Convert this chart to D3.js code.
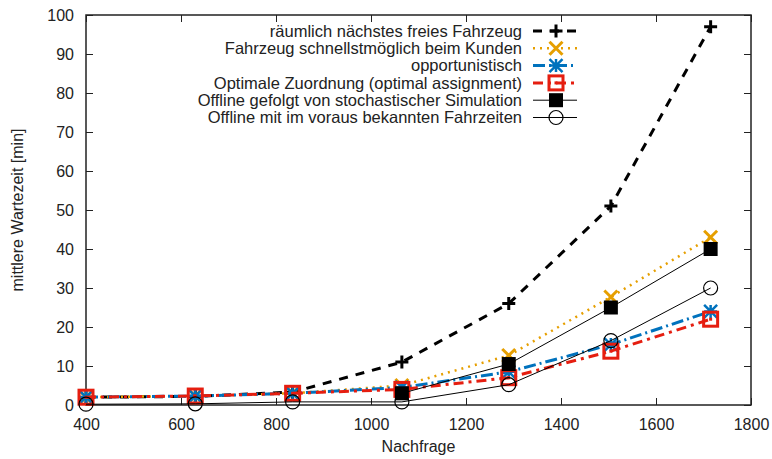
<!DOCTYPE html>
<html>
<head>
<meta charset="utf-8">
<script src="https://cdn.jsdelivr.net/npm/d3@7"></script>
<style>
  body { margin: 0; background: #fff; }
  text { font-family: "Liberation Sans", Arial, Helvetica, sans-serif; fill: #222; }
</style>
</head>
<body>
<svg id="chart" width="772" height="459"></svg>
<script>
// demand levels (x) and mean waiting time per strategy (y, minutes)
const demand = [400, 630, 835, 1065, 1290, 1505, 1715];
const nearestFree = [2, 2.2, 3.3, 11, 26, 51, 97];
const fastestAtCustomer = [2, 2.3, 3, 5, 12.7, 27.7, 43];
const opportunistic = [2, 2.3, 3, 4.5, 8.5, 15.5, 24];
const optimalAssignment = [2, 2.3, 3, 4, 7, 13.8, 22];
const offlineStochastic = [null, null, null, 3, 10.5, 25, 40];
const offlineKnown = [0.2, 0.3, 0.8, 0.8, 5.2, 16.5, 30];

const xTicks = [400, 600, 800, 1000, 1200, 1400, 1600, 1800];
const yTicks = [0, 10, 20, 30, 40, 50, 60, 70, 80, 90, 100];

const series = [
    { name: "räumlich nächstes freies Fahrzeug", values: nearestFree, color: "#000", width: 3, dash: "9,8", marker: "plus" },
    { name: "Fahrzeug schnellstmöglich beim Kunden", values: fastestAtCustomer, color: "#e69f00", width: 2.5, dash: "2,5", marker: "cross" },
    { name: "opportunistisch", values: opportunistic, color: "#0072bd", width: 3, dash: "12,4,2,4", marker: "star" },
    { name: "Optimale Zuordnung (optimal assignment)", values: optimalAssignment, color: "#e51e10", width: 3, dash: "10,5,3,5", marker: "square" },
    { name: "Offline gefolgt von stochastischer Simulation", values: offlineStochastic, color: "#000", width: 1, dash: null, marker: "filled" },
    { name: "Offline mit im voraus bekannten Fahrzeiten", values: offlineKnown, color: "#000", width: 1, dash: null, marker: "circle" }
];

const svg = d3.select("#chart");
const margin = { left: 86, right: 21, top: 15, bottom: 54 };
const W = 772, H = 459;

const x = d3.scaleLinear().domain([400, 1800]).range([margin.left, W - margin.right]);
const y = d3.scaleLinear().domain([0, 100]).range([H - margin.bottom, margin.top]);

const tickLen = 7;

// frame
svg.append("rect")
    .attr("x", x(400)).attr("y", y(100))
    .attr("width", x(1800) - x(400)).attr("height", y(0) - y(100))
    .attr("fill", "none").attr("stroke", "#222").attr("stroke-width", 1.5);

// axes with inward ticks, mirrored
const axB = svg.append("g").attr("transform", `translate(0,${y(0)})`)
    .call(d3.axisBottom(x).tickValues(xTicks).tickSizeInner(-tickLen).tickSizeOuter(0).tickPadding(14).tickFormat(d3.format("d")));
const axT = svg.append("g").attr("transform", `translate(0,${y(100)})`)
    .call(d3.axisTop(x).tickValues(xTicks).tickSizeInner(-tickLen).tickSizeOuter(0).tickFormat(""));
const axL = svg.append("g").attr("transform", `translate(${x(400)},0)`)
    .call(d3.axisLeft(y).tickValues(yTicks).tickSizeInner(-tickLen).tickSizeOuter(0).tickPadding(12));
const axR = svg.append("g").attr("transform", `translate(${x(1800)},0)`)
    .call(d3.axisRight(y).tickValues(yTicks).tickSizeInner(-tickLen).tickSizeOuter(0).tickFormat(""));

[axB, axT, axL, axR].forEach(a => {
    a.select(".domain").remove();
    a.selectAll(".tick line").attr("stroke", "#222").attr("stroke-width", 1);
    a.selectAll(".tick text").attr("font-size", 16).attr("fill", "#222")
        .style("font-family", "'Liberation Sans', Arial, sans-serif");
});

// axis titles
svg.append("text")
    .attr("x", (x(400) + x(1800)) / 2).attr("y", 452)
    .attr("text-anchor", "middle").attr("font-size", 16)
    .text("Nachfrage");
svg.append("text")
    .attr("transform", `translate(23,${(y(0) + y(100)) / 2}) rotate(-90)`)
    .attr("text-anchor", "middle").attr("font-size", 16)
    .text("mittlere Wartezeit [min]");

function drawMarker(g, type, color, cx, cy) {
    const s = 6.5;
    if (type === "plus") {
        g.append("path").attr("d", `M${cx - s},${cy}H${cx + s}M${cx},${cy - s}V${cy + s}`)
            .attr("stroke", color).attr("stroke-width", 3).attr("fill", "none");
    } else if (type === "cross") {
        g.append("path").attr("d", `M${cx - s},${cy - s}L${cx + s},${cy + s}M${cx - s},${cy + s}L${cx + s},${cy - s}`)
            .attr("stroke", color).attr("stroke-width", 3).attr("fill", "none");
    } else if (type === "star") {
        g.append("path").attr("d", `M${cx - s},${cy}H${cx + s}M${cx},${cy - s}V${cy + s}M${cx - s},${cy - s}L${cx + s},${cy + s}M${cx - s},${cy + s}L${cx + s},${cy - s}`)
            .attr("stroke", color).attr("stroke-width", 2.5).attr("fill", "none");
    } else if (type === "square") {
        g.append("rect").attr("x", cx - 7).attr("y", cy - 7).attr("width", 14).attr("height", 14)
            .attr("stroke", color).attr("stroke-width", 3).attr("fill", "none");
        g.append("rect").attr("x", cx - 1.5).attr("y", cy - 1.5).attr("width", 3).attr("height", 3).attr("fill", color);
    } else if (type === "filled") {
        g.append("rect").attr("x", cx - 7).attr("y", cy - 7).attr("width", 14).attr("height", 14).attr("fill", color);
    } else if (type === "circle") {
        g.append("circle").attr("cx", cx).attr("cy", cy).attr("r", 7)
            .attr("stroke", color).attr("stroke-width", 1.2).attr("fill", "none");
    }
}

const line = d3.line()
    .defined(d => d[1] !== null)
    .x(d => x(d[0])).y(d => y(d[1]));

const plot = svg.append("g");
series.forEach(s => {
    const pts = demand.map((d, i) => [d, s.values[i]]);
    const g = plot.append("g");
    g.append("path").datum(pts).attr("d", line)
        .attr("fill", "none").attr("stroke", s.color).attr("stroke-width", s.width)
        .attr("stroke-dasharray", s.dash);
    pts.filter(p => p[1] !== null).forEach(p => drawMarker(g, s.marker, s.color, x(p[0]), y(p[1])));
});

// legend
const legend = svg.append("g");
series.forEach((s, i) => {
    const ly = 31 + i * 17.3;
    legend.append("text").attr("x", 522).attr("y", ly).attr("dy", "0.35em")
        .attr("text-anchor", "end").attr("font-size", 16.5).text(s.name);
    legend.append("path").attr("d", `M533,${ly}H577`)
        .attr("stroke", s.color).attr("stroke-width", s.width)
        .attr("stroke-dasharray", s.dash).attr("fill", "none");
    drawMarker(legend, s.marker, s.color, 556, ly);
});
</script>
</body>
</html>
